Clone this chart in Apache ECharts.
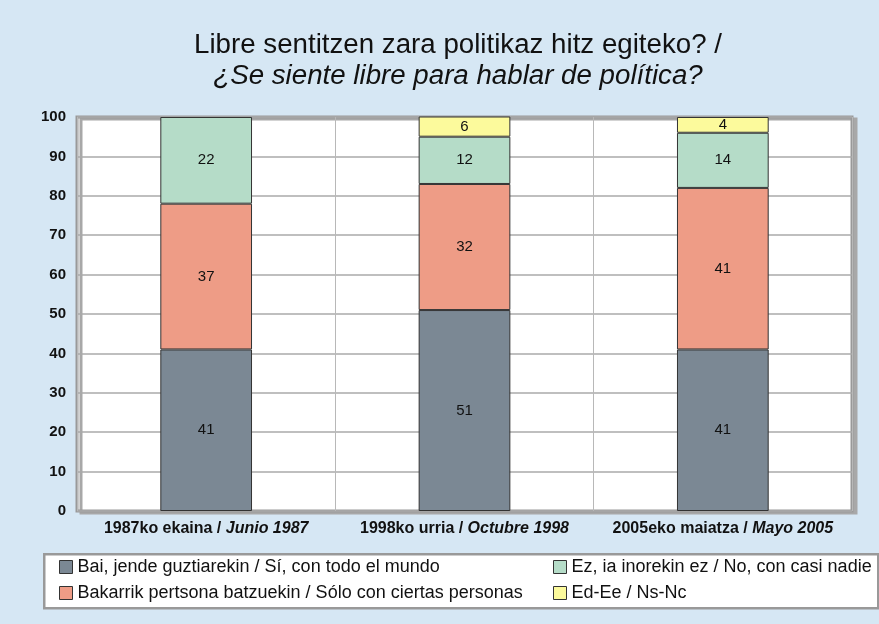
<!DOCTYPE html>
<html>
<head>
<meta charset="utf-8">
<script src="https://cdn.jsdelivr.net/npm/echarts@6/dist/echarts.min.js"></script>
<style>
  html, body { margin: 0; padding: 0; background: #d6e7f4; }
  #chart { width: 879px; height: 624px; }
</style>
</head>
<body>
<div id="chart"></div>
<script>
// datos
var categories = ['1987ko ekaina / ', '1998ko urria / ', '2005eko maiatza / '];
var categoriesEs = ['Junio 1987', 'Octubre 1998', 'Mayo 2005'];
var seriesNames = [
    'Bai, jende guztiarekin / Sí, con todo el mundo',
    'Bakarrik pertsona batzuekin / Sólo con ciertas personas',
    'Ez, ia inorekin ez / No, con casi nadie',
    'Ed-Ee / Ns-Nc'
];
var bai = [41, 51, 41];
var bakarrik = [37, 32, 41];
var ez = [22, 12, 14];
var edee = ['-', 6, 4];
var yTicks = [0, 100, 10]; // min, max, interval

var colors = ['#7b8894', '#ee9c86', '#b5dcc8', '#fcfa9c'];
var font = 'Liberation Sans, Arial, sans-serif';

function barSeries(i, data) {
    return {
        name: seriesNames[i],
        type: 'bar',
        stack: 'total',
        barWidth: '35.5%',
        data: data,
        itemStyle: {
            color: colors[i],
            borderColor: '#333',
            borderWidth: 1
        },
        label: {
            show: true,
            position: 'inside',
            color: '#111',
            fontSize: 15,
            fontFamily: font
        }
    };
}

var legendBase = {
    orient: 'vertical',
    top: 553,
    itemGap: 8,
    itemWidth: 13,
    itemHeight: 13,
    icon: 'rect',
    itemStyle: { borderColor: '#333', borderWidth: 1 },
    textStyle: { fontSize: 18, color: '#111', fontFamily: font }
};

var dom = document.getElementById('chart');
var myChart = echarts.init(dom, null, { renderer: 'canvas' });
var option = {
    backgroundColor: '#d6e7f4',
    animation: false,
    textStyle: { fontFamily: font },
    title: {
        text: 'Libre sentitzen zara politikaz hitz egiteko? /',
        subtext: '¿Se siente libre para hablar de política?',
        left: 453,
        textAlign: 'center',
        top: 26,
        itemGap: 3,
        textStyle: { fontSize: 27.7, fontWeight: 'normal', color: '#111', fontFamily: font },
        subtextStyle: { fontSize: 27.7, fontStyle: 'italic', color: '#111', fontFamily: font }
    },
    graphic: [{
        type: 'rect',
        left: 43,
        top: 553,
        shape: { width: 834, height: 54 },
        style: { fill: '#fff', stroke: '#999', lineWidth: 2.5 },
        z: -1
    }],
    legend: [
        Object.assign({}, legendBase, { data: [seriesNames[0], seriesNames[1]], left: 54 }),
        Object.assign({}, legendBase, { data: [seriesNames[2], seriesNames[3]], left: 548 })
    ],
    grid: {
        left: 77,
        right: 27,
        top: 117,
        bottom: 113,
        show: true,
        backgroundColor: '#fff',
        borderColor: '#999',
        borderWidth: 3,
        shadowColor: '#a8a8a8',
        shadowOffsetX: 4,
        shadowOffsetY: 2,
        shadowBlur: 0
    },
    xAxis: {
        type: 'category',
        data: categories,
        axisLine: { show: false },
        axisTick: { show: false },
        splitLine: { show: true, lineStyle: { color: '#b8b8b8', width: 1 } },
        axisLabel: {
            margin: 10,
            formatter: function (value, idx) {
                return '{a|' + value + '}{b|' + categoriesEs[idx] + '}';
            },
            rich: {
                a: { fontSize: 16, fontWeight: 'bold', color: '#111', fontFamily: font },
                b: { fontSize: 16, fontWeight: 'bold', fontStyle: 'italic', color: '#111', fontFamily: font }
            }
        }
    },
    yAxis: {
        type: 'value',
        min: yTicks[0],
        max: yTicks[1],
        interval: yTicks[2],
        axisLine: { show: false },
        axisTick: { show: false },
        splitLine: { lineStyle: { color: '#aaa', width: 1.5 } },
        axisLabel: {
            margin: 11,
            fontSize: 15,
            fontWeight: 'bold',
            color: '#111',
            fontFamily: font
        }
    },
    series: [
        barSeries(0, bai),
        barSeries(1, bakarrik),
        barSeries(2, ez),
        barSeries(3, edee)
    ]
};
myChart.setOption(option, true);
</script>
</body>
</html>
